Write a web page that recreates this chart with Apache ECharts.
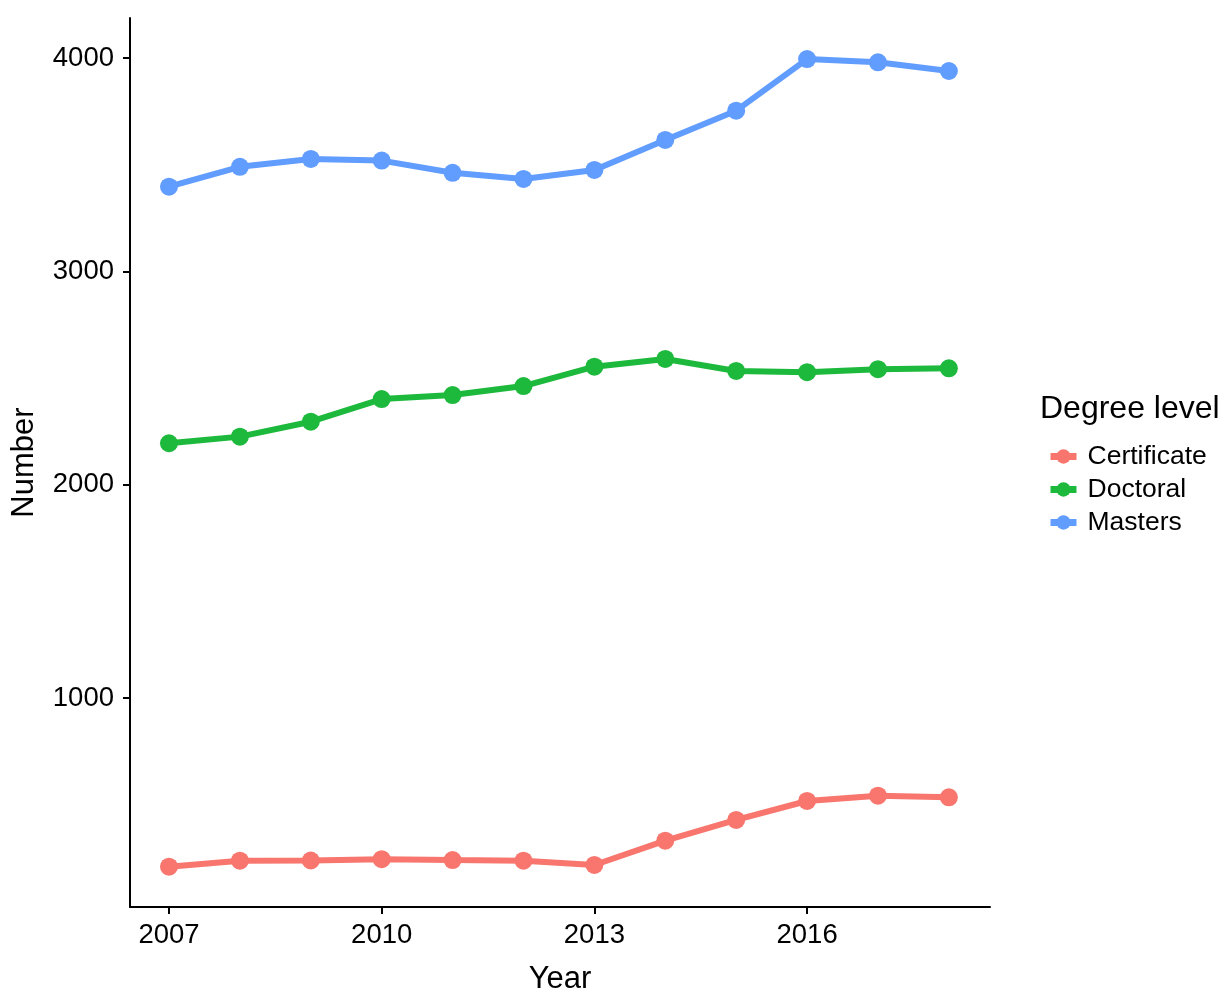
<!DOCTYPE html>
<html>
<head>
<meta charset="utf-8">
<script src="https://cdn.jsdelivr.net/npm/echarts@6/dist/echarts.min.js"></script>
<style>
html,body{margin:0;padding:0;background:#fff;}
#chart{width:1225px;height:993px;}
</style>
</head>
<body>
<div id="chart"></div>
<script>
const years = [2007, 2008, 2009, 2010, 2011, 2012, 2013, 2014, 2015, 2016, 2017, 2018];
const certificate = [209, 237, 238, 244, 240, 237, 217, 331, 428, 517, 542, 534];
const doctoral = [2194, 2225, 2295, 2401, 2420, 2462, 2553, 2589, 2533, 2527, 2541, 2545];
const masters = [3397, 3490, 3527, 3519, 3462, 3433, 3475, 3616, 3753, 3995, 3980, 3939];
const xTicks = [2007, 2010, 2013, 2016];
const yTicks = [1000, 2000, 3000, 4000];
const seriesNames = ['Certificate', 'Doctoral', 'Masters'];
const seriesColors = ['#F8766D', '#1DB93C', '#619CFF'];
const seriesValues = [certificate, doctoral, masters];

const FONT = 'Liberation Sans, Arial, sans-serif';
const chart = echarts.init(document.getElementById('chart'), null, {renderer: 'canvas'});
chart.setOption({
  backgroundColor: '#ffffff',
  animation: false,
  title: {
    text: 'Degree level',
    left: 1035,
    top: 388,
    textStyle: {fontFamily: FONT, fontSize: 32, fontWeight: 'normal', color: '#000'}
  },
  legend: {
    orient: 'vertical',
    left: 1042,
    top: 438,
    itemWidth: 26,
    itemHeight: 18,
    itemGap: 6,
    data: seriesNames,
    lineStyle: {width: 7},
    textStyle: {fontFamily: FONT, fontSize: 26.5, color: '#000', lineHeight: 27, padding: [0, 0, 0, 6]}
  },
  grid: {left: 130, right: 235, top: 18, bottom: 86, containLabel: false, outerBoundsMode: 'none'},
  xAxis: {
    type: 'value',
    min: 2006.45,
    max: 2018.58,
    name: 'Year',
    nameLocation: 'middle',
    nameGap: 57,
    nameTextStyle: {fontFamily: FONT, fontSize: 31, color: '#000'},
    axisLine: {show: true, lineStyle: {color: '#000', width: 2}},
    axisTick: {show: true, length: 7, lineStyle: {color: '#000', width: 2}, customValues: xTicks},
    axisLabel: {fontFamily: FONT, fontSize: 27.5, color: '#000', margin: 14, customValues: xTicks, formatter: v => String(v)},
    splitLine: {show: false}
  },
  yAxis: {
    type: 'value',
    min: 20,
    max: 4187.5,
    name: 'Number',
    nameLocation: 'middle',
    nameGap: 90,
    nameTextStyle: {fontFamily: FONT, fontSize: 31, color: '#000'},
    axisLine: {show: true, lineStyle: {color: '#000', width: 2}},
    axisTick: {show: true, length: 7, lineStyle: {color: '#000', width: 2}, customValues: yTicks},
    axisLabel: {fontFamily: FONT, fontSize: 27.5, color: '#000', margin: 16, customValues: yTicks, formatter: v => String(v)},
    splitLine: {show: false}
  },
  series: seriesNames.map((name, i) => ({
    name: name,
    type: 'line',
    data: years.map((y, j) => [y, seriesValues[i][j]]),
    symbol: 'circle',
    symbolSize: 18,
    showSymbol: true,
    color: seriesColors[i],
    lineStyle: {width: 6, color: seriesColors[i]},
    itemStyle: {color: seriesColors[i]}
  }))
});
</script>
</body>
</html>
